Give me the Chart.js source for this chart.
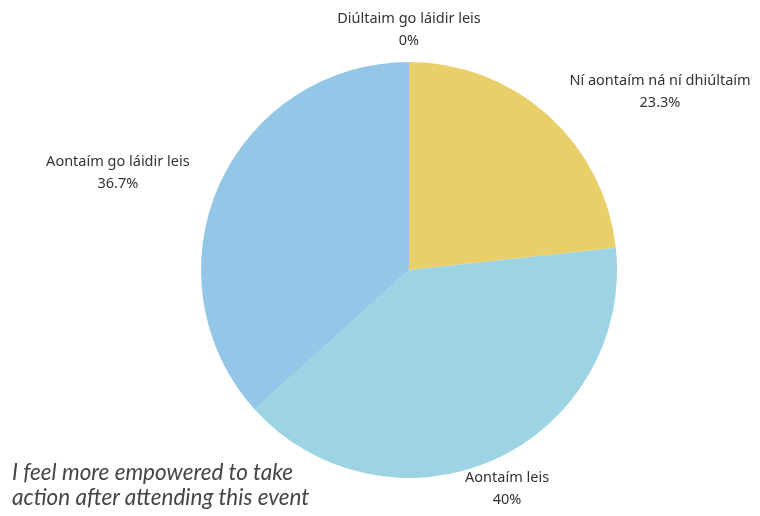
<!DOCTYPE html>
<html lang="ga">
<head>
    <meta charset="UTF-8">
    <title>Pie chart</title>
    <script src="https://cdn.jsdelivr.net/npm/chart.js"></script>
    <style>
        html, body { margin: 0; padding: 0; background: #fff; }
        .wrap { position: relative; width: 760px; height: 516px; }
        .caption {
            position: absolute;
            left: 12px;
            top: 459px;
            font-family: Lato, "Open Sans", sans-serif;
            font-style: italic;
            font-size: 22.5px;
            line-height: 25px;
            color: #454545;
        }
    </style>
</head>
<body>
    <div class="wrap">
        <canvas id="pieChart" width="760" height="516"></canvas>
        <div class="caption">I feel more empowered to take<br>action after attending this event</div>
    </div>

    <script>
        // data
        const labels = ['Diúltaim go láidir leis', 'Ní aontaím ná ní dhiúltaím', 'Aontaím leis', 'Aontaím go láidir leis'];
        const values = [0, 23.3, 40, 36.7];
        const pctLabels = ['0%', '23.3%', '40%', '36.7%'];
        const colors = ['#e06666', '#e9cf6a', '#9dd4e4', '#94c6e7'];

        // labels outside each slice
        const outsideLabels = {
            id: 'outsideLabels',
            afterDraw(chart) {
                const ctx = chart.ctx;
                const arcs = chart.getDatasetMeta(0).data;
                ctx.save();
                ctx.font = '14.5px "Noto Sans", sans-serif';
                ctx.fillStyle = '#333';
                ctx.textBaseline = 'middle';
                arcs.forEach((arc, i) => {
                    const mid = (arc.startAngle + arc.endAngle) / 2;
                    const r = arc.outerRadius + 32;
                    const x = arc.x + Math.cos(mid) * r;
                    const y = arc.y + Math.sin(mid) * r;
                    const c = Math.cos(mid);
                    if (Math.abs(c) < 0.5) ctx.textAlign = 'center';
                    else ctx.textAlign = c > 0 ? 'left' : 'right';
                    ctx.fillText(labels[i], x, y - 11);
                    // centre the % under the label
                    let w = ctx.measureText(labels[i]).width;
                    let px = x;
                    if (ctx.textAlign === 'left') px = x + w / 2;
                    if (ctx.textAlign === 'right') px = x - w / 2;
                    ctx.textAlign = 'center';
                    ctx.fillText(pctLabels[i], px, y + 11);
                });
                ctx.restore();
            }
        };

        new Chart(document.getElementById('pieChart'), {
            type: 'pie',
            data: {
                labels: labels,
                datasets: [{
                    data: values,
                    backgroundColor: colors,
                    borderWidth: 0
                }]
            },
            options: {
                responsive: false,
                animation: false,
                layout: { padding: { top: 62, bottom: 38, left: 201, right: 143 } },
                plugins: {
                    legend: { display: false },
                    tooltip: { enabled: false }
                }
            },
            plugins: [outsideLabels]
        });
    </script>
</body>
</html>
